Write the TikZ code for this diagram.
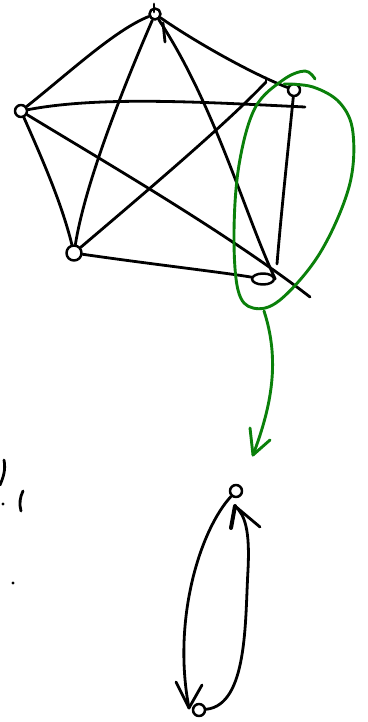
\documentclass[tikz,border=0pt]{standalone}
\usetikzlibrary{shapes.geometric}
\definecolor{pen}{RGB}{0,0,0}
\definecolor{grnpen}{RGB}{10,128,10}
\begin{document}
\begin{tikzpicture}[x=1pt,y=-1pt,line cap=round,line join=round,
  ink/.style={draw=pen,line width=2.8pt},
  gink/.style={draw=grnpen,line width=2.9pt},
  vtx/.style={circle,draw=pen,line width=2.5pt,inner sep=0pt,minimum size=12pt},
  vell/.style={ellipse,draw=pen,line width=2.5pt,inner sep=0pt,minimum width=22pt,minimum height=11pt}]
\useasboundingbox[fill=white] (0,0) rectangle (367,722);
% vertices of the pentagon graph
\node[vtx,minimum size=11pt] (T) at (155,14) {};
\node[vtx,minimum size=12pt] (L) at (21,111) {};
\node[vtx,minimum size=12pt] (R) at (294,90) {};
\node[vtx,minimum size=15pt] (BL) at (74,253) {};
\node[vell] (BR) at (263,279) {};
\coordinate (Hend) at (305,107);
\coordinate (Dend) at (310,297);
\coordinate (RBend) at (277,264);
\coordinate (Xend) at (266,82);
% edges
\draw[ink] (T) .. controls (115,30) and (70,72) .. (L);
\draw[ink] (T) .. controls (200,45) and (255,75) .. (R);
\draw[ink] (L) .. controls (100,96) and (200,102) .. (Hend);
\draw[ink] (L) .. controls (110,165) and (230,235) .. (Dend);
\draw[ink] (L) .. controls (45,165) and (62,205) .. (BL);
\draw[ink] (T) .. controls (120,95) and (85,185) .. (BL);
\draw[ink] (T) .. controls (215,105) and (245,215) .. (BR.east);
\draw[ink] (R) .. controls (287,160) and (281,215) .. (RBend);
\draw[ink] (BL) .. controls (160,180) and (230,120) .. (Xend);
\draw[ink] (Xend) -- (266,78);
\draw[ink] (BL) .. controls (150,264) and (220,272) .. (BR);
\draw[ink] (163,23) -- (165,42);
\draw[ink] (154,4) -- (154,12);
% green selection loop
\draw[gink] plot[smooth,tension=0.6] coordinates {(315,79) (305,71) (283,80) (255,108) (239,165) (234,233) (238,290) (253,308) (280,300) (320,253) (349,187) (353,133) (340,103) (313,87) (284,84)};
% green arrow
\coordinate (Gs) at (264,311);
\coordinate (Ge) at (253,455);
\draw[gink] (Gs) .. controls (280,360) and (272,405) .. (Ge);
\draw[gink] (250,428) -- (Ge) -- (270,440);
% two-vertex graph
\node[vtx,minimum size=12pt] (V1) at (236,491) {};
\node[vtx,minimum size=12pt] (V2) at (199,710) {};
\coordinate (Ab) at (189,708);
\coordinate (At) at (235,506);
\draw[ink] (V1) .. controls (200,530) and (172,620) .. (Ab);
\draw[ink] (176,682) -- (Ab) -- (202,685);
\draw[ink] (V2) .. controls (248,705) and (245,620) .. (248,570) .. controls (250,530) and (245,515) .. (At);
\draw[draw=pen,line width=4pt] (231,528) -- (At);
\draw[ink] (260,527) -- (At);
% fragments at the left edge
\draw[ink] (4,460) .. controls (6,470) and (3,478) .. (0,485);
\fill[pen] (3,504) circle (1.6pt);
\draw[ink] (23,491) .. controls (20,497) and (19,504) .. (21,511);
\fill[pen] (13,583) circle (1.7pt);
\end{tikzpicture}
\end{document}
